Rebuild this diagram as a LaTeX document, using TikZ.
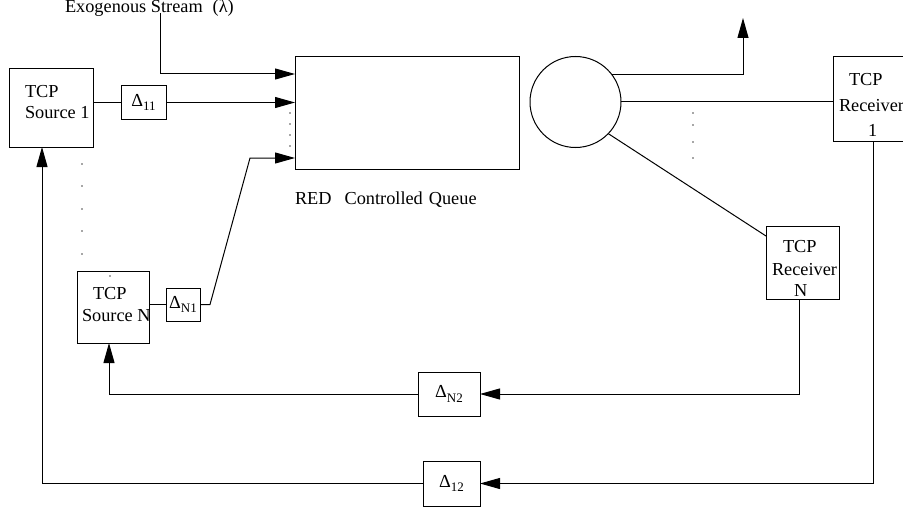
\documentclass[tikz,border=0pt]{standalone}
\usepackage{fontspec}
\setmainfont{Liberation Serif}
\usetikzlibrary{arrows.meta,calc}
\newcommand{\dsub}[1]{Δ\raisebox{-4.5pt}{\fontsize{13}{13}\selectfont #1}}
\begin{document}
\begin{tikzpicture}[x=1pt,y=-1pt,
  box/.style={draw,line width=1pt,rectangle,inner sep=0pt,outer sep=0pt},
  lbl/.style={inner sep=0pt,outer sep=0pt,anchor=base west,font=\fontsize{18.3}{21}\selectfont},
  dlbl/.style={inner sep=0pt,outer sep=0pt,font=\fontsize{18.3}{21}\selectfont},
  ln/.style={line width=1pt},
  arr/.style={line width=1pt,-{Triangle[length=20pt,width=11pt]}},
  dotm/.style={fill=black!70}]
\useasboundingbox (0,0) rectangle (903,511);
\clip (0,0) rectangle (903,511);
% boxes
\node[box,minimum width=84pt,minimum height=78pt] (s1) at (51,108) {};
\node[box,minimum width=45pt,minimum height=33pt] (d11) at (143.5,102.5) {};
\node[box,minimum width=224pt,minimum height=112pt] (q) at (407,113) {};
\node[draw,line width=1pt,circle,minimum size=91pt,inner sep=0pt,outer sep=0pt] (c) at (575.5,102) {};
\node[box,minimum width=90pt,minimum height=84pt] (r1) at (878,99) {};
\node[box,minimum width=72pt,minimum height=72pt] (sN) at (113,307) {};
\node[box,minimum width=34pt,minimum height=33pt] (dN1) at (183,304.5) {};
\node[box,minimum width=73pt,minimum height=73pt] (rN) at (802.5,262.5) {};
\node[box,minimum width=62pt,minimum height=44pt] (dN2) at (449,394) {};
\node[box,minimum width=57pt,minimum height=45pt] (d12) at (451.5,483.5) {};
% texts
\node[lbl] (tex) at (65,13) {Exogenous Stream\hspace{10pt}(λ)};
\node[lbl] (ts1a) at (25,97) {TCP};
\node[lbl] (ts1b) at (25,118) {Source 1};
\node[lbl] (tsNa) at (93,299) {TCP};
\node[lbl] (tsNb) at (82,321) {Source N};
\node[lbl] (tq) at (295,204) {RED\hspace{13pt}Controlled\hspace{6pt}Queue};
\node[lbl] (tr1a) at (849,86) {TCP};
\node[lbl] (tr1b) at (839,112) {Receiver};
\node[lbl] (tr1c) at (868,136) {1};
\node[lbl] (trNa) at (783,252) {TCP};
\node[lbl] (trNb) at (772,275) {Receiver};
\node[lbl] (trNc) at (794,296) {N};
\node[dlbl] at (d11) {\dsub{11}};
\node[dlbl] at (dN1) {\dsub{N1}};
\node[dlbl] at (dN2) {\dsub{N2}};
\node[dlbl] at (d12) {\dsub{12}};
% coordinates
\coordinate (ex) at (160,13);
\coordinate (bend) at (250,158);
\coordinate (out) at (743,18);
% connectors
\draw[arr] (ex) |- ([yshift=-17pt]q.north west);
\draw[ln] (d11.west -| s1.east) -- (d11.west);
\draw[arr] (d11.east) -- (d11.east -| q.west);
\draw[ln] (dN1.west -| sN.east) -- (dN1.west);
\draw[arr] (dN1.east) -- ++(10,0) -- (bend) -- (bend -| q.west);
\draw[arr] (c.37) -| (out);
\draw[ln] (c.east) -- (c.east -| r1.west);
\draw[ln] (c.-44) -- ([yshift=-10pt]rN.north west);
\draw[arr] ([xshift=-3.5pt]rN.south) |- (dN2.east);
\draw[arr] (dN2.west) -| ([xshift=-4pt]sN.south);
\draw[arr] ([xshift=-5pt]r1.south) |- (d12.east);
\draw[arr] (d12.west) -| ([xshift=-9pt]s1.south);
% dots
\foreach \yy in {113,124,135,146} \fill[dotm] (290,\yy) circle (0.8pt);
\foreach \yy in {164,186,209,231,254} \fill[dotm] (82,\yy) circle (0.8pt);
\fill[dotm] (110,276) circle (0.8pt);
\foreach \yy in {113,125,142,158} \fill[dotm] (693,\yy) circle (0.8pt);
\end{tikzpicture}
\end{document}
